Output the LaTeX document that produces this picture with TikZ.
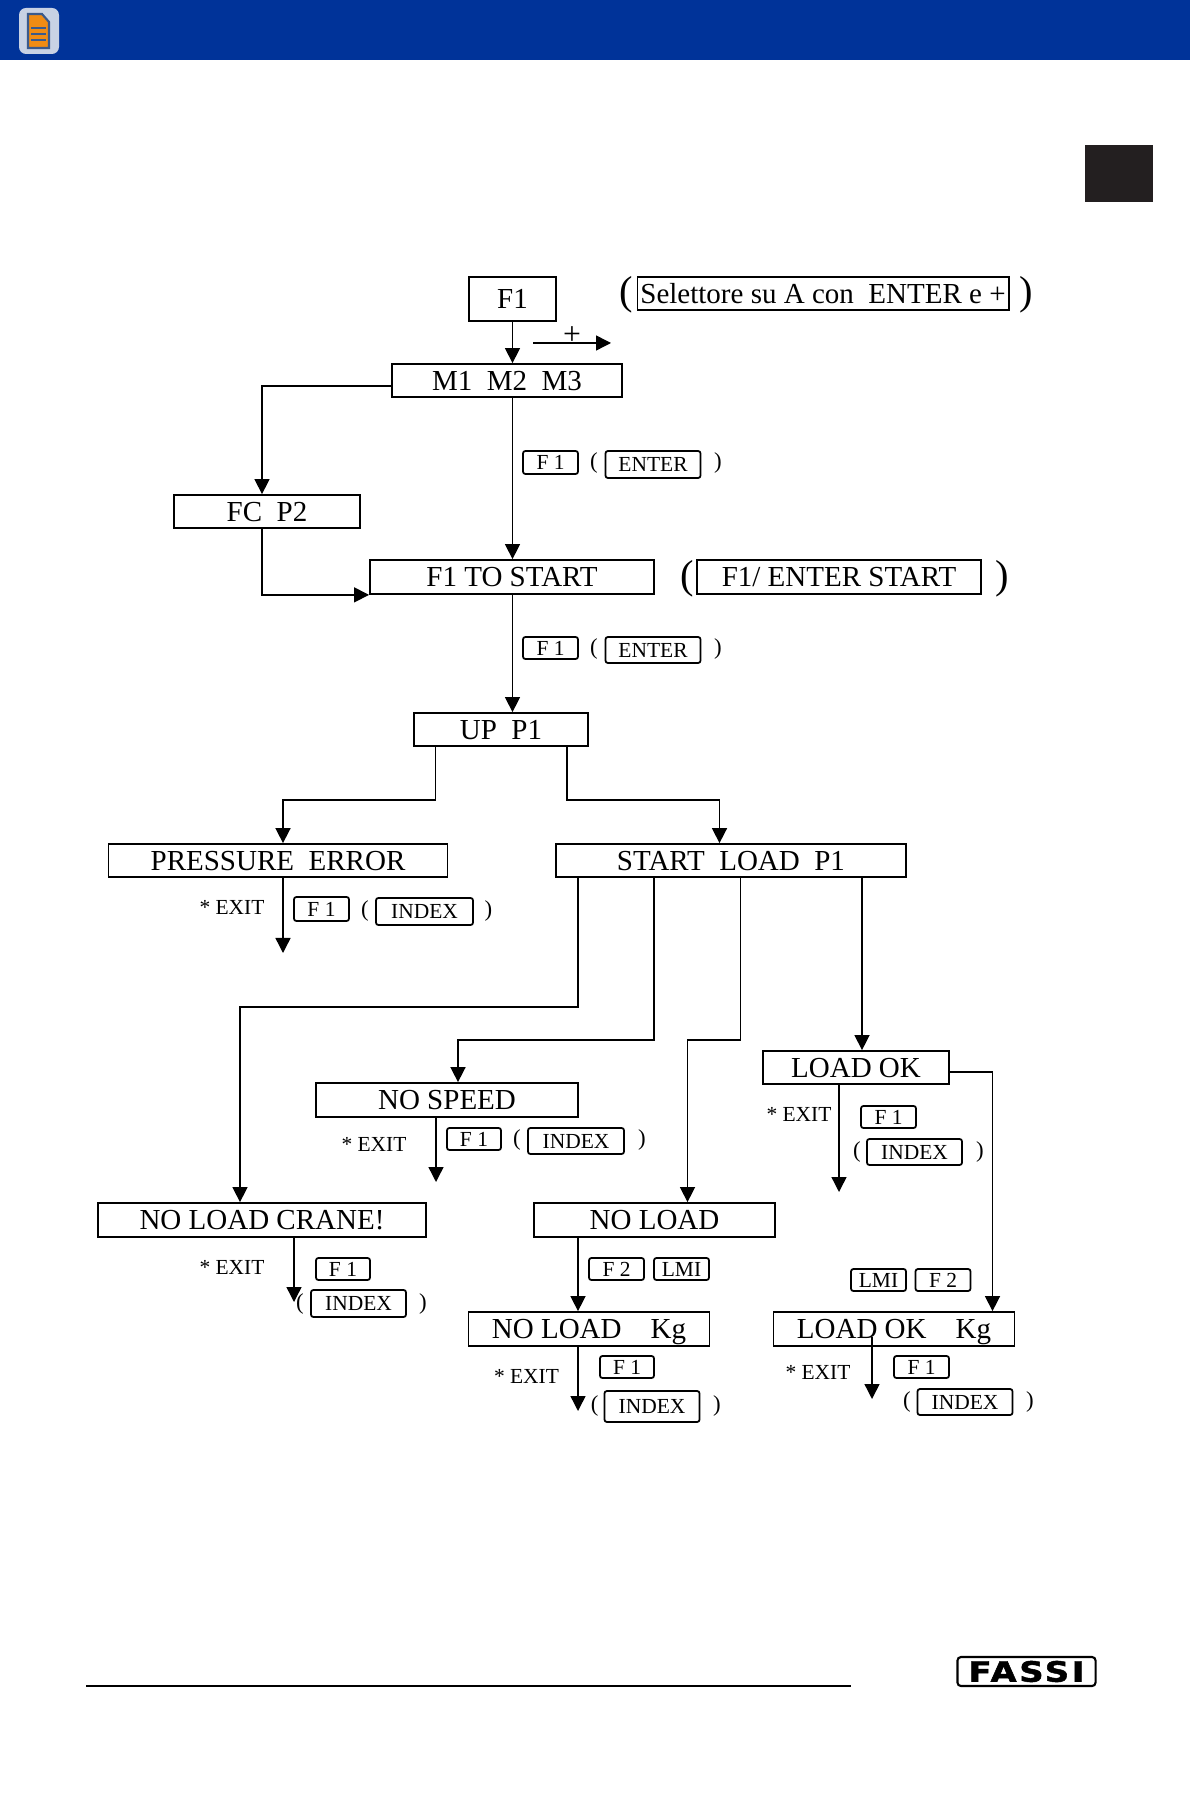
\documentclass[tikz,border=0pt]{standalone}
\usepackage{fontspec}
\setmainfont{Liberation Serif}
\newfontfamily\logofont[LetterSpace=8,FakeBold=1.6]{DejaVu Sans Bold}
\usetikzlibrary{arrows.meta}
\usetikzlibrary{positioning}
\definecolor{bandblue}{HTML}{003399}
\definecolor{docorange}{HTML}{F08C14}
\definecolor{docblue}{HTML}{3A5A8C}
\definecolor{iconpale}{HTML}{C8D2E4}
\definecolor{tabblack}{HTML}{231F20}
\tikzset{>={Triangle[length=0.15cm,width=0.15cm]},
  mainbox/.style={draw,line width=0.5pt,inner sep=0pt,text height=5.45pt,text depth=0pt,font=\fontsize{8.25}{10}\selectfont},
  keybox/.style={draw,line width=0.5pt,rounded corners=0.7pt,inner sep=0pt,text height=4pt,text depth=0pt,font=\fontsize{6.1}{8}\selectfont},
  note/.style={inner sep=0pt,text height=4pt,text depth=0pt,font=\fontsize{6.1}{8}\selectfont},
  smallparen/.style={inner sep=0pt,yshift=-0.02cm,font=\fontsize{6.5}{8}\selectfont},
  bigparen/.style={inner sep=0pt,yshift=-0.035cm,font=\fontsize{11.5}{13}\selectfont},
  flow/.style={->,line width=0.4pt},
  elbow/.style={->,line width=0.45pt}}
\begin{document}
\begin{tikzpicture}[x=0.01cm,y=-0.01cm]

  \useasboundingbox (0,0) rectangle (1190,1804);

  % page furniture
  \fill [bandblue] (0,0) rectangle (1190,60);
  \fill [iconpale,rounded corners=2pt] (19,8) rectangle (59,54);
  \filldraw [fill=docorange,draw=docblue,line width=0.6pt] (28,14) -- (42,14) -- (49,22) -- (49,48) -- (28,48) -- cycle;
  \draw [docblue,line width=0.3pt] (31,28) -- (46,28);
  \draw [docblue,line width=0.3pt] (31,34) -- (46,34);
  \draw [docblue,line width=0.3pt] (31,40) -- (46,40);
  \fill [tabblack] (1085,145) rectangle (1153,202);
  \draw [line width=0.6pt] (86,1686) -- (851,1686);
  \node [draw,line width=0.6pt,rounded corners=1pt,minimum width=1.38cm,minimum height=0.29cm,inner sep=0pt,font=\logofont\fontsize{8}{10}\selectfont] (logo) at (1026.5,1671.5) {\scalebox{1.2}[1]{FASSI}};

  % top of the chart
  \node [mainbox,minimum width=0.87cm,minimum height=0.44cm] (fone) at (512.5,299) {F1};
  \node [mainbox,minimum width=3.71cm,minimum height=0.33cm] (selbox) at (823,293.5) {Selettore su A con~~ENTER e +};
  \node [bigparen] (selopen) at (626,291) {(};
  \node [bigparen] (selclose) at (1026,291) {)};
  \node [mainbox,minimum width=2.30cm,minimum height=0.33cm] (mone) at (507,380.5) {M1~~M2~~M3};
  \node [mainbox,minimum width=1.86cm,minimum height=0.33cm] (fcp) at (267,511.5) {FC~~P2};
  \node [mainbox,minimum width=2.84cm,minimum height=0.34cm] (fstart) at (512,577) {F1 TO START};
  \node [mainbox,minimum width=2.84cm,minimum height=0.34cm] (fenter) at (839,577) {F1/ ENTER START};
  \node [bigparen] (fopen) at (687,575) {(};
  \node [bigparen] (fclose) at (1002,575) {)};
  \node [mainbox,minimum width=1.74cm,minimum height=0.33cm] (upp) at (501,729.5) {UP~~P1};

  \coordinate (plusa) at (533,343);
  \coordinate (plusb) at (611,343);
  \node [inner sep=0pt,font=\fontsize{9}{10}\selectfont] (plus) at (572,336) {+};
  \draw [flow] (plusa) -- (plusb);

  \node [keybox,minimum width=0.55cm,minimum height=0.23cm] (keya) at (550.5,462.5) {F 1};
  \node [smallparen] (paa) at (594,461) {(};
  \node [keybox,minimum width=0.95cm,minimum height=0.27cm] (entera) at (653,464.5) {ENTER};
  \node [smallparen] (pab) at (718,461) {)};
  \node [keybox,minimum width=0.55cm,minimum height=0.22cm] (keyb) at (550.5,648) {F 1};
  \node [smallparen] (pba) at (594,647) {(};
  \node [keybox,minimum width=0.95cm,minimum height=0.26cm] (enterb) at (653,650) {ENTER};
  \node [smallparen] (pbb) at (718,647) {)};

  \coordinate (mainx) at (512.5,0);
  \coordinate (fcx) at (262,0);
  \coordinate (mfc) at (392,386);
  \draw [flow] (fone.south -| mainx) -- (mone.north -| mainx);
  \draw [flow] (mone.south -| mainx) -- (fstart.north -| mainx);
  \draw [flow] (fstart.south -| mainx) -- (upp.north -| mainx);
  \draw [flow] (mfc) -- (mfc -| fcx) -- (fcp.north -| fcx);
  \draw [elbow] (fcp.south -| fcx) -- (fstart.south -| fcx) -- (fstart.south west);

  % second level
  \node [mainbox,minimum width=3.39cm,minimum height=0.33cm] (perror) at (278,860.5) {PRESSURE~~ERROR};
  \node [mainbox,minimum width=3.50cm,minimum height=0.33cm] (sload) at (731,860.5) {START~~LOAD~~P1};

  \coordinate (upl) at (435.6,0);
  \coordinate (upr) at (567,0);
  \coordinate (upy) at (0,800);
  \coordinate (perrx) at (283,0);
  \coordinate (sloadx) at (719.5,0);
  \coordinate (perrend) at (283,953);
  \draw [elbow] (upp.south -| upl) -- (upl |- upy) -- (perrx |- upy) -- (perror.north -| perrx);
  \draw [elbow] (upp.south -| upr) -- (upr |- upy) -- (sloadx |- upy) -- (sload.north -| sloadx);
  \draw [flow] (perror.south -| perrx) -- (perrend);

  \node [note] (exita) at (232,907) {* EXIT};
  \node [keybox,minimum width=0.55cm,minimum height=0.24cm] (keyc) at (321.5,909) {F 1};
  \node [smallparen] (pca) at (365,909) {(};
  \node [keybox,minimum width=0.97cm,minimum height=0.27cm] (indexa) at (424.5,911.5) {INDEX};
  \node [smallparen] (pcb) at (488.5,909) {)};

  % the four ways out of START LOAD
  \node [mainbox,minimum width=3.28cm,minimum height=0.34cm] (crane) at (262,1220) {NO LOAD CRANE!};
  \node [mainbox,minimum width=2.62cm,minimum height=0.34cm] (nospeed) at (447,1100) {NO SPEED};
  \node [mainbox,minimum width=2.41cm,minimum height=0.34cm] (noload) at (654.5,1220) {NO LOAD};
  \node [mainbox,minimum width=1.86cm,minimum height=0.33cm] (loadok) at (856,1067.5) {LOAD OK};
  \node [mainbox,minimum width=2.41cm,minimum height=0.34cm] (noloadkg) at (589,1329) {NO LOAD~~~~Kg};
  \node [mainbox,minimum width=2.41cm,minimum height=0.34cm] (loadokkg) at (894,1329) {LOAD OK~~~~Kg};

  \coordinate (sa) at (578,0);
  \coordinate (sb) at (654,0);
  \coordinate (sc) at (740.5,0);
  \coordinate (sd) at (862,0);
  \coordinate (craney) at (0,1007);
  \coordinate (speedy) at (0,1040);
  \coordinate (cranex) at (240,0);
  \coordinate (speedx) at (458,0);
  \coordinate (noloadx) at (687.5,0);
  \coordinate (sidex) at (992.5,0);
  \coordinate (sidey) at (0,1072);
  \draw [flow] (sload.south -| sa) -- (sa |- craney) -- (cranex |- craney) -- (crane.north -| cranex);
  \draw [elbow] (sload.south -| sb) -- (sb |- speedy) -- (speedx |- speedy) -- (nospeed.north -| speedx);
  \draw [flow] (sload.south -| sc) -- (sc |- speedy) -- (noloadx |- speedy) -- (noload.north -| noloadx);
  \draw [flow] (sload.south -| sd) -- (loadok.north -| sd);
  \draw [flow] (loadok.east |- sidey) -- (sidex |- sidey) -- (loadokkg.north -| sidex);
  \draw [flow] (noload.south -| sa) -- (noloadkg.north -| sa);

  \coordinate (endcrane) at (294,1302);
  \coordinate (endspeed) at (436,1182);
  \coordinate (endok) at (839,1192);
  \coordinate (endnokg) at (578,1411);
  \coordinate (startokkg) at (872,1337);
  \coordinate (endokkg) at (872,1399);
  \draw [flow] (crane.south -| endcrane) -- (endcrane);
  \draw [flow] (nospeed.south -| endspeed) -- (endspeed);
  \draw [flow] (loadok.south -| endok) -- (endok);
  \draw [flow] (noloadkg.south -| endnokg) -- (endnokg);
  \draw [flow] (startokkg) -- (endokkg);

  % NO SPEED labels
  \node [note] (exitb) at (374,1144) {* EXIT};
  \node [keybox,minimum width=0.54cm,minimum height=0.22cm] (keyd) at (474,1139) {F 1};
  \node [smallparen] (pda) at (517,1138) {(};
  \node [keybox,minimum width=0.96cm,minimum height=0.26cm] (indexb) at (576,1141) {INDEX};
  \node [smallparen] (pdb) at (642,1138) {)};

  % LOAD OK labels
  \node [note] (exitc) at (799,1114) {* EXIT};
  \node [keybox,minimum width=0.55cm,minimum height=0.22cm] (keye) at (888.5,1117) {F 1};
  \node [smallparen] (pea) at (857,1150) {(};
  \node [keybox,minimum width=0.95cm,minimum height=0.26cm] (indexc) at (914.5,1152) {INDEX};
  \node [smallparen] (peb) at (980,1150) {)};

  % NO LOAD CRANE labels
  \node [note] (exitd) at (232,1267) {* EXIT};
  \node [keybox,minimum width=0.54cm,minimum height=0.22cm] (keyf) at (343,1269) {F 1};
  \node [smallparen] (pfa) at (300,1302) {(};
  \node [keybox,minimum width=0.95cm,minimum height=0.27cm] (indexd) at (358.5,1303.5) {INDEX};
  \node [smallparen] (pfb) at (423,1302) {)};

  % NO LOAD labels
  \node [keybox,minimum width=0.55cm,minimum height=0.22cm] (keyg) at (616.5,1269) {F 2};
  \node [keybox,minimum width=0.55cm,minimum height=0.22cm] (lmia) at (681.5,1269) {LMI};
  \node [note] (exite) at (526.5,1376) {* EXIT};
  \node [keybox,minimum width=0.54cm,minimum height=0.22cm] (keyh) at (627,1367) {F 1};
  \node [smallparen] (pga) at (594.6,1404) {(};
  \node [keybox,minimum width=0.95cm,minimum height=0.31cm] (indexe) at (652,1406.5) {INDEX};
  \node [smallparen] (pgb) at (717,1404) {)};

  % LOAD OK Kg labels
  \node [keybox,minimum width=0.55cm,minimum height=0.22cm] (lmib) at (878.5,1280) {LMI};
  \node [keybox,minimum width=0.55cm,minimum height=0.22cm] (keyi) at (943,1280) {F 2};
  \node [note] (exitf) at (818,1372) {* EXIT};
  \node [keybox,minimum width=0.55cm,minimum height=0.22cm] (keyj) at (921.5,1367) {F 1};
  \node [smallparen] (pha) at (907,1400) {(};
  \node [keybox,minimum width=0.95cm,minimum height=0.26cm] (indexf) at (965,1402) {INDEX};
  \node [smallparen] (phb) at (1030,1400) {)};

\end{tikzpicture}
\end{document}
